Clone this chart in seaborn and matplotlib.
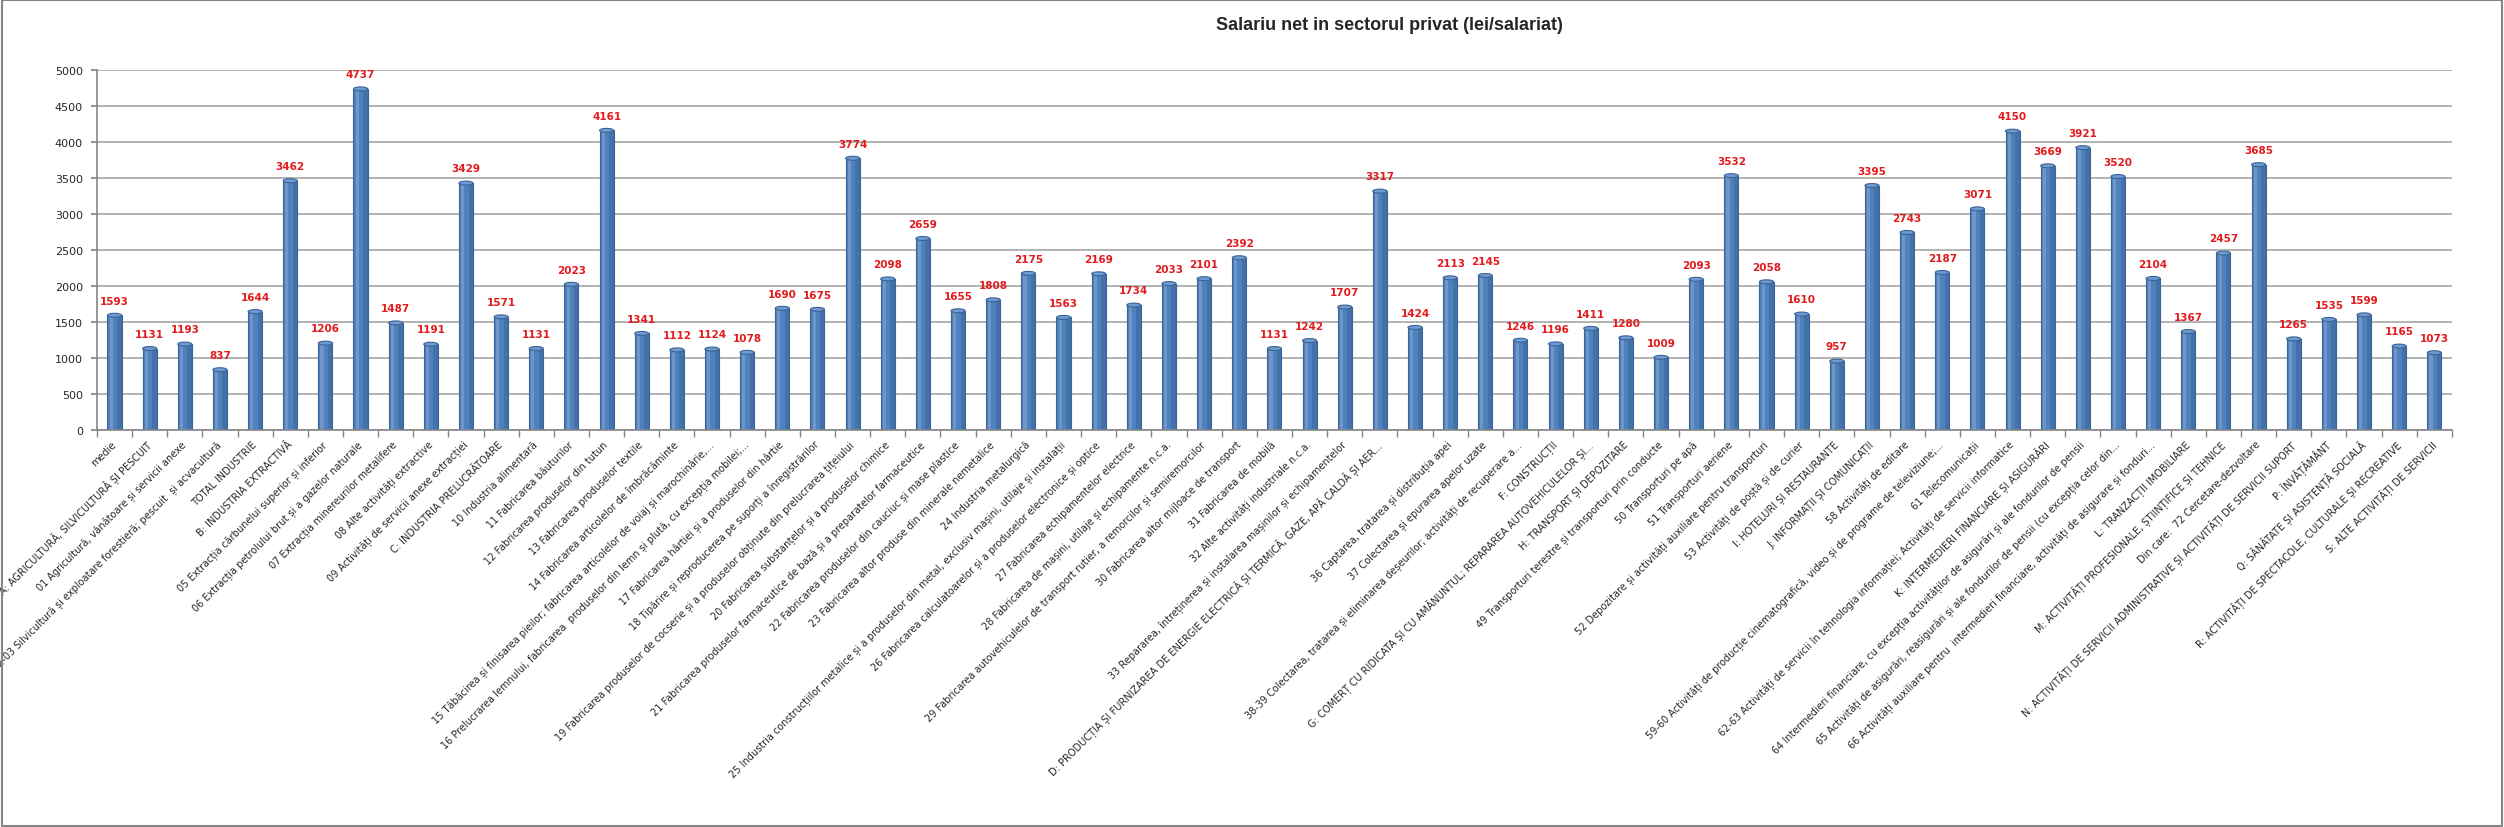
import matplotlib
matplotlib.use("Agg")
import matplotlib.pyplot as plt
import seaborn as sns
import pandas as pd
from matplotlib.patches import Ellipse, Rectangle

# categorii (CAEN) in ordinea din grafic; bara fara eticheta = sectiunea E
categories = [
    "medie",
    "A: AGRICULTURĂ, SILVICULTURĂ ȘI PESCUIT",
    "01 Agricultură, vânătoare și servicii anexe",
    "02-03 Silvicultură și exploatare forestieră; pescuit  și acvacultură",
    "TOTAL INDUSTRIE",
    "B: INDUSTRIA EXTRACTIVĂ",
    "05 Extracția cărbunelui superior și inferior",
    "06 Extracția petrolului brut și a gazelor naturale",
    "07 Extracția minereurilor metalifere",
    "08 Alte activități extractive",
    "09 Activități de servicii anexe extracției",
    "C: INDUSTRIA PRELUCRĂTOARE",
    "10 Industria alimentară",
    "11 Fabricarea băuturilor",
    "12 Fabricarea produselor din tutun",
    "13 Fabricarea produselor textile",
    "14 Fabricarea articolelor de îmbrăcăminte",
    "15 Tăbăcirea și finisarea pieilor; fabricarea articolelor de voiaj și marochinărie,...",
    "16 Prelucrarea lemnului, fabricarea  produselor din lemn și plută, cu excepția mobilei;...",
    "17 Fabricarea hârtiei și a produselor din hârtie",
    "18 Tipărire și reproducerea pe suporți a înregistrărilor",
    "19 Fabricarea produselor de cocserie și a produselor obținute din prelucrarea țițeiului",
    "20 Fabricarea substanțelor și a produselor chimice",
    "21 Fabricarea produselor farmaceutice de bază și a preparatelor farmaceutice",
    "22 Fabricarea produselor din cauciuc și mase plastice",
    "23 Fabricarea altor produse din minerale nemetalice",
    "24 Industria metalurgică",
    "25 Industria construcțiilor metalice și a produselor din metal, exclusiv mașini, utilaje și instalații",
    "26 Fabricarea calculatoarelor și a produselor electronice și optice",
    "27 Fabricarea echipamentelor electrice",
    "28 Fabricarea de mașini, utilaje și echipamente n.c.a.",
    "29 Fabricarea autovehiculelor de transport rutier, a remorcilor și semiremorcilor",
    "30 Fabricarea altor mijloace de transport",
    "31 Fabricarea de mobilă",
    "32 Alte activități industriale n.c.a.",
    "33 Repararea, întreținerea și instalarea mașinilor și echipamentelor",
    "D: PRODUCȚIA ȘI FURNIZAREA DE ENERGIE ELECTRICĂ ȘI TERMICĂ, GAZE, APĂ CALDĂ ȘI AER...",
    " ",
    "36 Captarea, tratarea și distribuția apei",
    "37 Colectarea și epurarea apelor uzate",
    "38-39 Colectarea, tratarea și eliminarea deșeurilor; activități de recuperare a...",
    "F: CONSTRUCȚII",
    "G: COMERȚ CU RIDICATA ȘI CU AMĂNUNTUL; REPARAREA AUTOVEHICULELOR ȘI...",
    "H: TRANSPORT ȘI DEPOZITARE",
    "49 Transporturi terestre și transporturi prin conducte",
    "50 Transporturi pe apă",
    "51 Transporturi aeriene",
    "52 Depozitare și activități auxiliare pentru transporturi",
    "53 Activități de poștă și de curier",
    "I: HOTELURI ȘI RESTAURANTE",
    "J: INFORMAȚII ȘI COMUNICAȚII",
    "58 Activități de editare",
    "59-60 Activități de producție cinematografică, video și de programe de televiziune;...",
    "61 Telecomunicații",
    "62-63 Activități de servicii în tehnologia informației; Activități de servicii informatice",
    "K: INTERMEDIERI FINANCIARE ȘI ASIGURĂRI",
    "64 Intermedieri financiare, cu excepția activităților de asigurări și ale fondurilor de pensii",
    "65 Activități de asigurări, reasigurări și ale fondurilor de pensii (cu excepția celor din...",
    "66 Activități auxiliare pentru  intermedieri financiare, activități de asigurare și fonduri...",
    "L: TRANZACȚII IMOBILIARE",
    "M: ACTIVITĂȚI PROFESIONALE, ȘTIINȚIFICE ȘI TEHNICE",
    "Din care:  72 Cercetare-dezvoltare",
    "N: ACTIVITĂȚI DE SERVICII ADMINISTRATIVE ȘI ACTIVITĂȚI DE SERVICII SUPORT",
    "P: ÎNVĂȚĂMÂNT",
    "Q: SĂNĂTATE ȘI ASISTENȚĂ SOCIALĂ",
    "R: ACTIVITĂȚI DE SPECTACOLE, CULTURALE ȘI RECREATIVE",
    "S: ALTE ACTIVITĂȚI DE SERVICII",
]

values = [
    1593, 1131, 1193, 837, 1644, 3462, 1206, 4737, 1487, 1191,
    3429, 1571, 1131, 2023, 4161, 1341, 1112, 1124, 1078, 1690,
    1675, 3774, 2098, 2659, 1655, 1808, 2175, 1563, 2169, 1734,
    2033, 2101, 2392, 1131, 1242, 1707, 3317, 1424, 2113, 2145,
    1246, 1196, 1411, 1280, 1009, 2093, 3532, 2058, 1610, 957,
    3395, 2743, 2187, 3071, 4150, 3669, 3921, 3520, 2104, 1367,
    2457, 3685, 1265, 1535, 1599, 1165, 1073,
]

yticks = list(range(0, 5001, 500))

sns.set_theme(style="white")
plt.rcParams['font.family'] = ['DejaVu Sans']

df = pd.DataFrame({"categorie": categories, "salariu": values})

fig = plt.figure(figsize=(25.04, 8.28), dpi=100)
ax = fig.add_axes([0.0387, 0.4795, 0.9405, 0.4348])

sns.barplot(data=df, x="categorie", y="salariu", color="#4F81BD", saturation=1,
            width=0.4, edgecolor="#3A6496", linewidth=0.8, ax=ax)

# efect de cilindru
for p in ax.patches:
    x, w, h = p.get_x(), p.get_width(), p.get_height()
    ax.add_patch(Rectangle((x + w * 0.68, 0), w * 0.32, h, facecolor="#2E5687",
                           alpha=0.35, lw=0, zorder=p.get_zorder() + 0.1))
    ax.add_patch(Rectangle((x + w * 0.15, 0), w * 0.22, h, facecolor="white",
                           alpha=0.18, lw=0, zorder=p.get_zorder() + 0.1))
    ax.add_patch(Ellipse((x + w / 2, h), w, 55, facecolor="#6F9BD1",
                         edgecolor="#3A6496", lw=0.8, zorder=p.get_zorder() + 0.2))

ax.bar_label(ax.containers[0], labels=[str(v) for v in values], padding=7,
             color="#E31A1C", fontweight="bold", fontsize=7.5)

ax.set_ylim(0, 5000)
ax.set_xlim(-0.5, len(categories) - 0.5)
ax.set_yticks(yticks)
ax.yaxis.grid(True, color="#A6A6A6", lw=1.2)
ax.set_axisbelow(True)

ax.set_xticks(range(len(categories)))
ax.set_xticklabels(categories, rotation=45, ha="right", va="center",
                   rotation_mode="anchor", fontsize=7)
ax.set_xticks([i + 0.5 for i in range(-1, len(categories))], minor=True)
ax.tick_params(axis="x", which="major", length=0, pad=9)
ax.tick_params(axis="x", which="minor", length=5, color="#868686", bottom=True)
ax.tick_params(axis="y", length=4, color="#868686", left=True, labelsize=8, pad=6)

ax.set_xlabel("")
ax.set_ylabel("")
for s in ["top", "right"]:
    ax.spines[s].set_visible(False)
for s in ["left", "bottom"]:
    ax.spines[s].set_color("#868686")
    ax.spines[s].set_linewidth(1.2)

fig.text(0.555, 1 - 26 / 828, "Salariu net in sectorul privat (lei/salariat)",
         ha="center", va="center", fontsize=13, fontweight="bold",
         family=["Liberation Sans", "DejaVu Sans"])

fig.patches.append(Rectangle((0.0008, 0.0012), 0.9984, 0.9976, transform=fig.transFigure,
                             fill=False, edgecolor="#868686", lw=1.5))

fig.savefig("out.png", dpi=100)
